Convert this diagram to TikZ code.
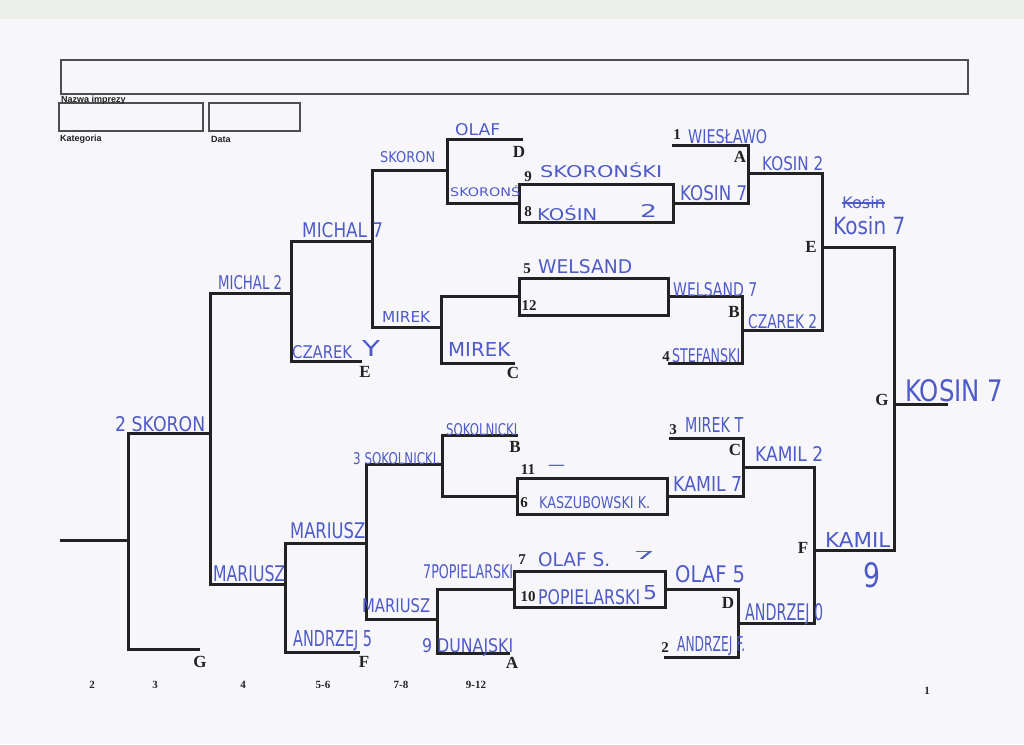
\documentclass[tikz,border=0pt]{standalone}
\usepackage{fontspec}
\usepackage{graphicx}
\newfontfamily\hwfont{DejaVu Sans}
\newfontfamily\formfont{Liberation Sans}
\newfontfamily\printfont{Liberation Serif}
\definecolor{ink}{RGB}{78,90,200}
\definecolor{paper}{RGB}{247,247,251}
\definecolor{scanedge}{RGB}{236,240,237}
\definecolor{printk}{RGB}{34,34,34}
\newcommand{\hwtxt}[3]{\resizebox{#1pt}{#2pt}{\hwfont #3}}
\tikzset{
  bline/.style={draw=printk, line width=3pt},
  matchbox/.style={draw=printk, line width=3pt, inner sep=0pt, rectangle},
  formbox/.style={draw=printk!80, line width=2.2pt, inner sep=0pt, rectangle},
  slotlab/.style={font=\printfont\bfseries\fontsize{17}{17}\selectfont, text=printk, inner sep=0pt},
  seedlab/.style={font=\printfont\bfseries\fontsize{15}{15}\selectfont, text=printk, inner sep=0pt},
  collab/.style={font=\printfont\bfseries\fontsize{11}{11}\selectfont, text=printk, inner sep=0pt},
  formlab/.style={font=\formfont\bfseries\fontsize{9}{9}\selectfont, text=printk, anchor=west, inner sep=0pt},
  hw/.style={text=ink, inner sep=0pt, anchor=west}
}
\begin{document}
\begin{tikzpicture}[x=1pt,y=-1pt]
\useasboundingbox (0,0) rectangle (1024,744);
\fill[paper] (0,0) rectangle (1024,744);
\fill[scanedge] (0,0) rectangle (1024,19);

% form header
\node[formbox, minimum width=907pt, minimum height=34pt] (nazwa) at (514.5,77) {};
\node[formbox, minimum width=144pt, minimum height=28pt] (kat) at (131,117) {};
\node[formbox, minimum width=91pt, minimum height=28pt] (data) at (254.5,117) {};
\node[formlab] (tnazwa) at (61,100) {Nazwa imprezy};
\node[formlab] (tkat) at (60,139) {Kategoria};
\node[formlab] (tdata) at (211,139) {Data};

% match boxes
\node[matchbox, minimum width=154pt, minimum height=38pt] (b98) at (596,203) {};
\node[matchbox, minimum width=149pt, minimum height=37pt] (b512) at (593.5,296.5) {};
\node[matchbox, minimum width=150pt, minimum height=36pt] (b116) at (592,496) {};
\node[matchbox, minimum width=151pt, minimum height=36pt] (b710) at (589.5,589) {};

% ---------- right (winners) side ----------
\coordinate (r1a) at (672,145); \coordinate (r1b) at (748,145);
\draw[bline] (r1a) -- (r1b) |- (b98.east);
\coordinate (Aout) at (748,173); \coordinate (E1) at (822,173); \coordinate (Bout) at (742,330);
\draw[bline] (Aout) -- (E1) |- (Bout);
\coordinate (r4a) at (668,363); \coordinate (B2) at (742,363);
\draw[bline] (b512.east) -| (B2) -- (r4a);
\coordinate (Eout) at (822,247); \coordinate (G1) at (894,247);
\coordinate (G2) at (894,550); \coordinate (Fout) at (814,550);
\draw[bline] (Eout) -- (G1) -- (G2) -- (Fout);
\coordinate (Gout) at (894,404); \coordinate (Gend) at (948,404);
\draw[bline] (Gout) -- (Gend);
\coordinate (r3a) at (669,438); \coordinate (C1) at (743,438);
\draw[bline] (r3a) -- (C1) |- (b116.east);
\coordinate (Cout) at (743,467); \coordinate (F1) at (814,467); \coordinate (Dout) at (738,623);
\draw[bline] (Cout) -- (F1) |- (Dout);
\coordinate (r2a) at (664,657); \coordinate (D2) at (738,657);
\draw[bline] (b710.east) -| (D2) -- (r2a);

% ---------- left (repechage) side ----------
\coordinate (lDa) at (523,139); \coordinate (lDb) at (447,139);
\draw[bline] (lDa) -- (lDb) |- (b98.west);
\coordinate (lSa) at (447,170); \coordinate (lSb) at (372,170); \coordinate (lMk) at (441,327);
\draw[bline] (lSa) -- (lSb) |- (lMk);
\coordinate (lCa) at (515,363); \coordinate (lCb) at (441,363);
\draw[bline] (lCa) -- (lCb) |- (b512.west);
\coordinate (lEa) at (362,361); \coordinate (lEb) at (291,361); \coordinate (lMi) at (372,241);
\draw[bline] (lEa) -- (lEb) |- (lMi);
\coordinate (lM2a) at (291,293); \coordinate (lM2b) at (210,293); \coordinate (lMa) at (285,584);
\draw[bline] (lM2a) -- (lM2b) |- (lMa);
\coordinate (lSkA) at (210,433); \coordinate (lSkB) at (128,433); \coordinate (lGa) at (200,649);
\draw[bline] (lGa) -| (lSkB) -- (lSkA);
\coordinate (lIn) at (60,540); \coordinate (lInB) at (128,540);
\draw[bline] (lIn) -- (lInB);
\coordinate (lFa) at (360,652); \coordinate (lFb) at (285,652); \coordinate (lMu) at (366,543);
\draw[bline] (lFa) -- (lFb) |- (lMu);
\coordinate (lSoA) at (442,464); \coordinate (lSoB) at (366,464); \coordinate (lMl) at (437,619);
\draw[bline] (lSoA) -- (lSoB) |- (lMl);
\coordinate (lBa) at (518,435); \coordinate (lBb) at (442,435);
\draw[bline] (lBa) -- (lBb) |- (b116.west);
\coordinate (lAa) at (510,653); \coordinate (lAb) at (437,653);
\draw[bline] (lAa) -- (lAb) |- (b710.west);

% printed slot letters
\node[slotlab] (pD1) at (519,152) {D};
\node[slotlab] (pA1) at (740,157) {A};
\node[slotlab] (pE1) at (811,247) {E};
\node[slotlab] (pB1) at (734,312) {B};
\node[slotlab] (pE2) at (365,372) {E};
\node[slotlab] (pC1) at (513,373) {C};
\node[slotlab] (pB2) at (515,447) {B};
\node[slotlab] (pC2) at (735,450) {C};
\node[slotlab] (pD2) at (728,603) {D};
\node[slotlab] (pA2) at (512,663) {A};
\node[slotlab] (pF1) at (364,662) {F};
\node[slotlab] (pG1) at (200,662) {G};
\node[slotlab] (pF2) at (803,548) {F};
\node[slotlab] (pG2) at (882,400) {G};

% seed numbers
\node[seedlab] (s1) at (677,135) {1};
\node[seedlab] (s9) at (528,177) {9};
\node[seedlab] (s8) at (528,212) {8};
\node[seedlab] (s5) at (527,269) {5};
\node[seedlab] (s12) at (529,306) {12};
\node[seedlab] (s4) at (666,357) {4};
\node[seedlab] (s3) at (673,430) {3};
\node[seedlab] (s11) at (528,470) {11};
\node[seedlab] (s6) at (524,503) {6};
\node[seedlab] (s7) at (522,560) {7};
\node[seedlab] (s10) at (528,597) {10};
\node[seedlab] (s2) at (665,648) {2};

% column labels
\node[collab] (c2) at (92,685) {2};
\node[collab] (c3) at (155,685) {3};
\node[collab] (c4) at (243,685) {4};
\node[collab] (c56) at (323,685) {5-6};
\node[collab] (c78) at (401,685) {7-8};
\node[collab] (c912) at (476,685) {9-12};
\node[collab] (c1) at (927,691) {1};

% handwritten entries
\node[hw] (h1) at (455,130) {\hwtxt{45}{12}{OLAF}};
\node[hw] (h2) at (380,157) {\hwtxt{55}{11}{SKORON}};
\node[hw] (h3) at (450,191) {\hwtxt{70}{11}{SKORONŚ}};
\node[hw] (h4) at (540,170) {\hwtxt{122}{15}{SKORONŚKI}};
\node[hw] (h5) at (537,213) {\hwtxt{60}{15}{KOŚIN}};
\node[hw] (h6) at (640,211) {\hwtxt{17}{13}{2}};
\node[hw] (h7) at (688,137) {\hwtxt{79}{14}{WIESŁAWO}};
\node[hw] (h8) at (680,193) {\hwtxt{67}{15}{KOSIN 7}};
\node[hw] (h9) at (762,164) {\hwtxt{61}{14}{KOSIN 2}};
\node[hw] (h10) at (842,203) {\hwtxt{43}{12}{Kosin}};
\draw[ink, line width=2pt] (h10.west) -- (h10.east);
\node[hw] (h11) at (833,226) {\hwtxt{72}{18}{Kosin 7}};
\node[hw] (h12) at (538,267) {\hwtxt{94}{14}{WELSAND}};
\node[hw] (h13) at (673,290) {\hwtxt{84}{14}{WELSAND 7}};
\node[hw] (h14) at (748,322) {\hwtxt{69}{14}{CZAREK 2}};
\node[hw] (h15) at (672,356) {\hwtxt{68}{14}{STEFANSKI}};
\node[hw] (h16) at (302,230) {\hwtxt{81}{15}{MICHAL 7}};
\node[hw] (h17) at (218,283) {\hwtxt{64}{14}{MICHAL 2}};
\node[hw] (h18) at (382,317) {\hwtxt{48}{11}{MIREK}};
\node[hw] (h19) at (448,349) {\hwtxt{62}{14}{MIREK}};
\node[hw] (h20) at (292,352) {\hwtxt{60}{13}{CZAREK}};
\node[hw] (h20b) at (362,348) {\hwtxt{18}{16}{Y}};
\node[hw] (h21) at (115,424) {\hwtxt{90}{15}{2 SKORON}};
\node[hw] (h22) at (213,574) {\hwtxt{72}{16}{MARIUSZ}};
\node[hw] (h23) at (290,531) {\hwtxt{75}{16}{MARIUSZ}};
\node[hw] (h24) at (293,641) {\hwtxt{79}{16}{ANDRZEJ 5}};
\node[hw] (h25) at (353,459) {\hwtxt{87}{12}{3 SOKOLNICKI.}};
\node[hw] (h26) at (446,430) {\hwtxt{71}{12}{SOKOLNICKI}};
\node[hw] (h27) at (548,468) {\hwfont\fontsize{17}{17}\selectfont —};
\node[hw] (h28) at (539,503) {\hwtxt{111}{12}{KASZUBOWSKI K.}};
\node[hw] (h29) at (685,425) {\hwtxt{58}{15}{MIREK T}};
\node[hw] (h30) at (673,484) {\hwtxt{69}{15}{KAMIL 7}};
\node[hw] (h31) at (755,454) {\hwtxt{68}{15}{KAMIL 2}};
\node[hw] (h32) at (825,540) {\hwtxt{65}{15}{KAMIL}};
\node[hw] (h33) at (863,575) {\hwtxt{17}{25}{9}};
\node[hw] (h34) at (905,391) {\hwtxt{98}{22}{KOSIN 7}};
\node[hw] (h35) at (675,574) {\hwtxt{70}{17}{OLAF 5}};
\node[hw] (h36) at (745,614) {\hwtxt{78}{17}{ANDRZEJ 0}};
\node[hw] (h37) at (677,646) {\hwtxt{68}{15}{ANDRZEJ F.}};
\node[hw] (h38) at (538,560) {\hwtxt{72}{14}{OLAF S.}};
\node[hw] (h39) at (633,555) {\hwtxt{22}{8}{7}};
\node[hw] (h40) at (538,597) {\hwtxt{102}{15}{POPIELARSKI}};
\node[hw] (h41) at (643,593) {\hwtxt{14}{14}{5}};
\node[hw] (h42) at (423,572) {\hwtxt{90}{14}{7POPIELARSKI}};
\node[hw] (h43) at (362,606) {\hwtxt{68}{14}{MARIUSZ}};
\node[hw] (h44) at (422,647) {\hwtxt{91}{14}{9 DUNAJSKI}};
\end{tikzpicture}
\end{document}
